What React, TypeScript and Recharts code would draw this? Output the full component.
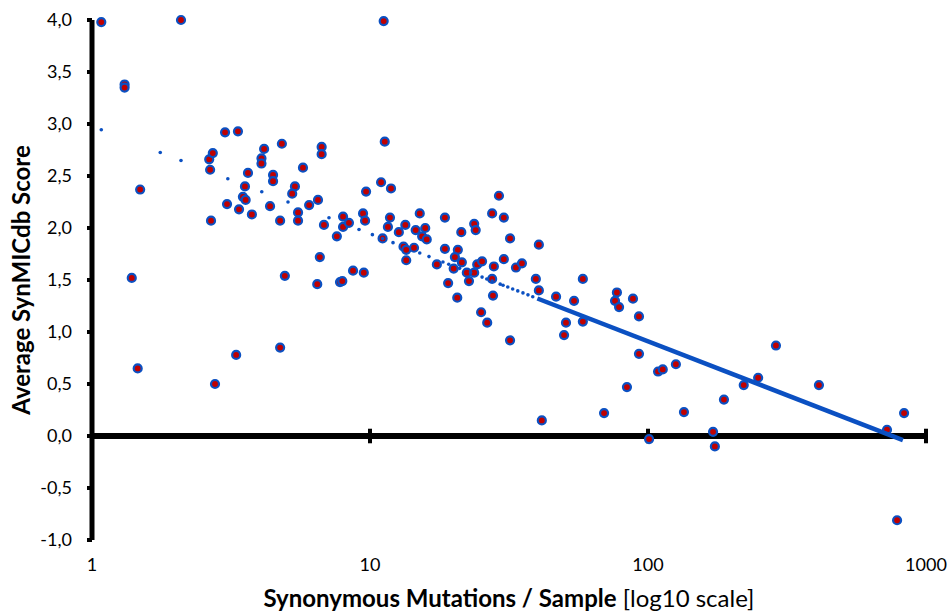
import React from 'react'
import {
  ScatterChart,
  Scatter,
  XAxis,
  YAxis,
  ReferenceLine,
  Label,
} from 'recharts'

// synonymous mutations per sample (x) and average SynMICdb score (y), one entry per gene
const mutationsPerSample = [
  1.08, 2.09, 1.31, 1.31, 1.49, 1.39, 1.46, 3.01, 3.35, 2.64,
  2.72, 2.66, 2.68, 2.77, 3.3, 4.16, 4.07, 4.07, 4.82, 6.7,
  6.7, 5.74, 3.64, 4.48, 4.48, 3.55, 3.49, 3.57, 3.06, 3.38,
  3.76, 4.37, 5.37, 5.25, 5.51, 5.51, 6.04, 6.5, 4.75, 4.94,
  4.75, 6.46, 6.6, 6.83, 7.6, 8.0, 8.0, 8.4, 9.44, 9.6,
  9.68, 10.96, 11.9, 11.2, 11.3, 11.8, 11.6, 11.1, 12.7, 13.4,
  15.1, 14.6, 15.8, 15.4, 16.0, 13.2, 13.5, 14.4, 13.5, 18.6,
  18.6, 21.3, 20.7, 20.2, 21.4, 17.4, 20.0, 23.7, 24.0, 27.5,
  30.3, 29.1, 31.9, 24.3, 25.3, 22.3, 23.7, 22.7, 19.1, 20.6,
  27.9, 30.3, 27.5, 27.7, 33.5, 35.2, 25.1, 26.4, 31.9, 8.69,
  9.5, 7.8, 7.95, 40.5, 39.5, 40.5, 58.3, 46.7, 54.2, 50.7,
  58.3, 49.9, 77.3, 76.1, 78.7, 88.3, 92.8, 92.8, 108.7, 113,
  84, 69.5, 126, 134.7, 100.9, 171.4, 174, 187.6, 221, 249,
  288.6, 412, 724, 834, 787, 41.5,
]

const averageScore = [
  3.98, 4.0, 3.38, 3.35, 2.37, 1.52, 0.65, 2.92, 2.93, 2.66,
  2.72, 2.56, 2.07, 0.5, 0.78, 2.76, 2.67, 2.62, 2.81, 2.78,
  2.71, 2.58, 2.53, 2.51, 2.45, 2.4, 2.3, 2.27, 2.23, 2.18,
  2.13, 2.21, 2.4, 2.33, 2.15, 2.07, 2.22, 2.27, 2.07, 1.54,
  0.85, 1.46, 1.72, 2.03, 1.92, 2.11, 2.01, 2.05, 2.14, 2.07,
  2.35, 2.44, 2.38, 3.99, 2.83, 2.1, 2.01, 1.9, 1.96, 2.03,
  2.14, 1.98, 2.0, 1.92, 1.89, 1.82, 1.79, 1.81, 1.69, 2.1,
  1.8, 1.96, 1.79, 1.72, 1.67, 1.65, 1.61, 2.04, 1.98, 2.14,
  2.1, 2.31, 1.9, 1.65, 1.68, 1.57, 1.57, 1.49, 1.47, 1.33,
  1.63, 1.7, 1.51, 1.35, 1.62, 1.66, 1.19, 1.09, 0.92, 1.59,
  1.57, 1.48, 1.49, 1.84, 1.51, 1.4, 1.51, 1.34, 1.3, 1.09,
  1.1, 0.97, 1.38, 1.3, 1.24, 1.32, 1.15, 0.79, 0.62, 0.64,
  0.47, 0.22, 0.69, 0.23, -0.03, 0.04, -0.1, 0.35, 0.49, 0.56,
  0.87, 0.49, 0.06, 0.22, -0.81, 0.15,
]

// log trend, sampled points (drawn as small dots)
const trendDotX = [
  1.08, 1.76, 2.09, 3.08, 4.08, 5.07, 7.12, 9.13, 10.2, 11.1,
  12.1, 15.1, 16.3, 18.3, 19.2, 21, 23, 25.3, 26.3, 27.5,
  29.4, 30.1, 31.3, 32.6, 34, 35.5, 37, 38.5,
]
const trendDotY = [
  2.945, 2.726, 2.649, 2.474, 2.348, 2.25, 2.098, 1.986, 1.936, 1.898,
  1.859, 1.76, 1.725, 1.673, 1.652, 1.612, 1.571, 1.528, 1.51, 1.49,
  1.46, 1.45, 1.432, 1.414, 1.395, 1.376, 1.357, 1.339,
]
// dense part of the trend, reads as a solid line
const trendLineX = [40, 826]
const trendLineY = [1.322, -0.039]

const xTicks = [1, 10, 100, 1000]
const yTicks = [-1, -0.5, 0, 0.5, 1, 1.5, 2, 2.5, 3, 3.5, 4]

const points = mutationsPerSample.map((x, i) => ({ x, y: averageScore[i] }))
const trendDots = trendDotX.map((x, i) => ({ x, y: trendDotY[i] }))
const trendLine = trendLineX.map((x, i) => ({ x, y: trendLineY[i] }))

const BLUE = '#0B50C2'
const RED = '#C00000'
const FONT = 'Lato, "Open Sans", sans-serif'

const DataDot = (props: any) => (
  <circle cx={props.cx} cy={props.cy} r={4} fill={RED} stroke={BLUE} strokeWidth={2.2} />
)
const TrendDot = (props: any) => <circle cx={props.cx} cy={props.cy} r={1.8} fill={BLUE} />
const NoDot = () => <g />

const XTitle = (props: any) => {
  const { x, y, width } = props.viewBox
  return (
    <text x={x + width / 2} y={y + 67} textAnchor="middle" fontFamily={FONT} fontSize={24} fill="#000">
      <tspan fontWeight={700}>Synonymous Mutations / Sample</tspan>
      <tspan> [log10 scale]</tspan>
    </text>
  )
}

const YTitle = (props: any) => {
  const { y, height } = props.viewBox
  const cx = 20
  const cy = y + height / 2
  return (
    <text
      x={cx}
      y={cy}
      transform={`rotate(-90 ${cx} ${cy})`}
      textAnchor="middle"
      dominantBaseline="central"
      fontFamily={FONT}
      fontSize={24}
      fontWeight={700}
      fill="#000"
    >
      Average SynMICdb Score
    </text>
  )
}

export default function App() {
  return (
    <div style={{ position: 'absolute', left: 0, top: 0, width: 949, height: 613, background: '#fff' }}>
      <ScatterChart width={949} height={613} margin={{ top: 20, right: 23, bottom: 0, left: 0 }}>
        <XAxis
          type="number"
          dataKey="x"
          scale="log"
          domain={[1, 1000]}
          ticks={xTicks}
          allowDataOverflow
          axisLine={false}
          tickLine={false}
          tickMargin={12}
          height={73}
          tick={{ fontFamily: FONT, fontSize: 18, fill: '#000' }}
        >
          <Label content={<XTitle />} />
        </XAxis>
        <YAxis
          type="number"
          dataKey="y"
          domain={[-1, 4]}
          ticks={yTicks}
          width={92}
          tickFormatter={(v: number) => v.toFixed(1).replace('.', ',')}
          axisLine={{ stroke: '#000', strokeWidth: 5 }}
          tickLine={{ stroke: '#000', strokeWidth: 4 }}
          tickSize={5}
          tickMargin={15}
          tick={{ fontFamily: FONT, fontSize: 18, fill: '#000' }}
        >
          <Label content={<YTitle />} />
        </YAxis>

        <ReferenceLine y={0} stroke="#000" strokeWidth={6} />
        {xTicks.slice(1).map((t) => (
          <ReferenceLine
            key={t}
            segment={[{ x: t, y: -0.07 }, { x: t, y: 0.07 }]}
            stroke="#000"
            strokeWidth={4}
          />
        ))}

        <Scatter data={points} shape={DataDot} isAnimationActive={false} />
        <Scatter data={trendDots} shape={TrendDot} isAnimationActive={false} />
        <Scatter
          data={trendLine}
          shape={NoDot}
          line={{ stroke: BLUE, strokeWidth: 4.5 }}
          isAnimationActive={false}
        />
      </ScatterChart>
    </div>
  )
}
